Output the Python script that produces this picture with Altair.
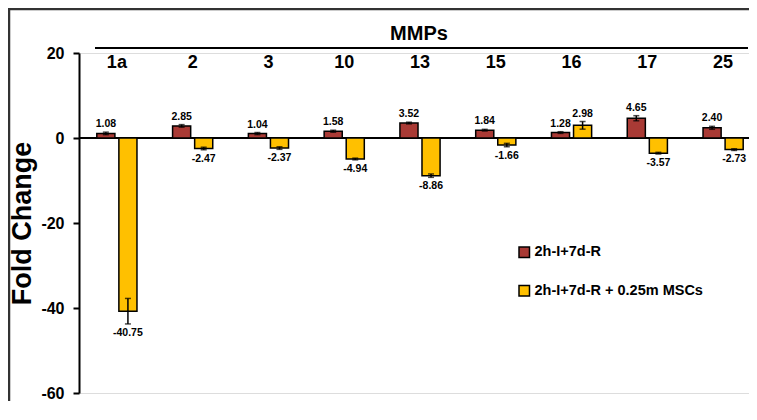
import altair as alt
import pandas as pd

categories = ["1a", "2", "3", "10", "13", "15", "16", "17", "25"]
series_names = ["2h-I+7d-R", "2h-I+7d-R + 0.25m MSCs"]
red_values = [1.08, 2.85, 1.04, 1.58, 3.52, 1.84, 1.28, 4.65, 2.40]
yellow_values = [-40.75, -2.47, -2.37, -4.94, -8.86, -1.66, 2.98, -3.57, -2.73]
red_err = [0.3, 0.3, 0.25, 0.25, 0.2, 0.2, 0.2, 0.6, 0.35]
yellow_err = [3.0, 0.3, 0.3, 0.2, 0.4, 0.4, 0.9, 0.2, 0.2]
y_ticks = [20, 0, -20, -40, -60]
colors = ["#A93A35", "#FFC000"]

rows = []
for s, vals, errs in [(series_names[0], red_values, red_err), (series_names[1], yellow_values, yellow_err)]:
    for c, v, e in zip(categories, vals, errs):
        rows.append({"cat": c, "series": s, "value": v, "lo": v - e, "hi": v + e,
                     "label": f"{v:.2f}"})
df = pd.DataFrame(rows)
cat_df = pd.DataFrame({"cat": categories})

FONT = "Liberation Sans, Arial"

xscale = alt.Scale(domain=categories, range=[0, 682], paddingInner=0.47, paddingOuter=0.235)
xoff = alt.XOffset("series:N", scale=alt.Scale(domain=series_names, paddingInner=0.18, paddingOuter=0))
yscale = alt.Scale(domain=[-60, 20], nice=False, zero=False)

base = alt.Chart(df)

bars = base.mark_bar(stroke="black", strokeWidth=1.5).encode(
    x=alt.X("cat:N", scale=xscale, axis=None, sort=categories),
    xOffset=xoff,
    y=alt.Y("value:Q", scale=yscale,
            axis=alt.Axis(values=y_ticks, title="Fold Change", grid=False,
                          labelExpr="'' + datum.value",
                          domainColor="black", domainWidth=2, tickColor="black",
                          tickWidth=2, tickSize=6, labelFont=FONT, labelFontSize=16,
                          labelFontWeight="bold", labelColor="black", labelPadding=9,
                          titleFont=FONT, titleFontSize=27, titleFontWeight="bold",
                          titleColor="black", titlePadding=4)),
    y2=alt.datum(0),
    color=alt.Color("series:N", scale=alt.Scale(domain=series_names, range=colors),
                    legend=alt.Legend(orient="none", legendX=438, legendY=192, title=None,
                                      symbolType="square", symbolSize=110,
                                      symbolStrokeColor="black", symbolStrokeWidth=1.5,
                                      symbolOpacity=1, labelFont=FONT, labelFontSize=14.5,
                                      labelFontWeight="bold", labelColor="black",
                                      labelLimit=400, rowPadding=21.5, labelOffset=3)),
)

err_rule = base.mark_rule(color="black", strokeWidth=1.5).encode(
    x=alt.X("cat:N", scale=xscale, sort=categories),
    xOffset=xoff,
    y=alt.Y("lo:Q", scale=yscale),
    y2="hi:Q",
)
err_lo = base.mark_tick(color="black", thickness=1.5, size=6, orient="horizontal").encode(
    x=alt.X("cat:N", scale=xscale, sort=categories),
    xOffset=xoff,
    y=alt.Y("lo:Q", scale=yscale),
)
err_hi = base.mark_tick(color="black", thickness=1.5, size=6, orient="horizontal").encode(
    x=alt.X("cat:N", scale=xscale, sort=categories),
    xOffset=xoff,
    y=alt.Y("hi:Q", scale=yscale),
)

pos_labels = base.transform_filter("datum.value >= 0").mark_text(
    font=FONT, fontSize=10.5, fontWeight="bold", color="black", baseline="bottom", dy=-3
).encode(
    x=alt.X("cat:N", scale=xscale, sort=categories),
    xOffset=xoff,
    y=alt.Y("hi:Q", scale=yscale),
    text="label:N",
)
neg_labels = base.transform_filter("datum.value < 0").mark_text(
    font=FONT, fontSize=10.5, fontWeight="bold", color="black", baseline="top", dy=4
).encode(
    x=alt.X("cat:N", scale=xscale, sort=categories),
    xOffset=xoff,
    y=alt.Y("lo:Q", scale=yscale),
    text="label:N",
)

zero_line = alt.Chart(cat_df).mark_rule(color="black", strokeWidth=2).encode(
    y=alt.Y("z:Q", scale=yscale),
    x=alt.value(0), x2=alt.value(700),
).transform_calculate(z="0")

cat_labels = alt.Chart(cat_df).mark_text(
    font=FONT, fontSize=18, fontWeight="bold", color="black", baseline="middle"
).encode(
    x=alt.X("cat:N", scale=xscale, sort=categories),
    y=alt.value(10),
    text="cat:N",
)

top_line = alt.Chart(cat_df).mark_rule(color="black", strokeWidth=2).encode(
    x=alt.value(16), x2=alt.value(669), y=alt.value(-5)
)
mmps = alt.Chart(pd.DataFrame({"t": ["MMPs"]})).mark_text(
    font=FONT, fontSize=20, fontWeight="bold", color="black", baseline="middle"
).encode(x=alt.value(340), y=alt.value(-19), text="t:N")

frame_top = alt.Chart(pd.DataFrame({"t": [0]})).mark_rule(
    color="#333333", strokeWidth=2.5
).encode(x=alt.value(-71), x2=alt.value(720), y=alt.value(-44))
frame_left = alt.Chart(pd.DataFrame({"t": [0]})).mark_rule(
    color="#333333", strokeWidth=2.5
).encode(x=alt.value(-70), y=alt.value(-45), y2=alt.value(420))

chart = alt.layer(
    frame_top, frame_left, zero_line, bars, err_rule, err_lo, err_hi, pos_labels, neg_labels,
    cat_labels, top_line, mmps
).resolve_scale(x="shared").properties(
    width=670, height=340,
    autosize=alt.AutoSizeParams(type="none"),
    padding={"left": 71, "top": 45, "right": 0, "bottom": 8},
).configure_view(strokeWidth=0, strokeOpacity=0).configure(background="white")

chart.save("out.html", embed_options={"renderer": "svg", "actions": False})
